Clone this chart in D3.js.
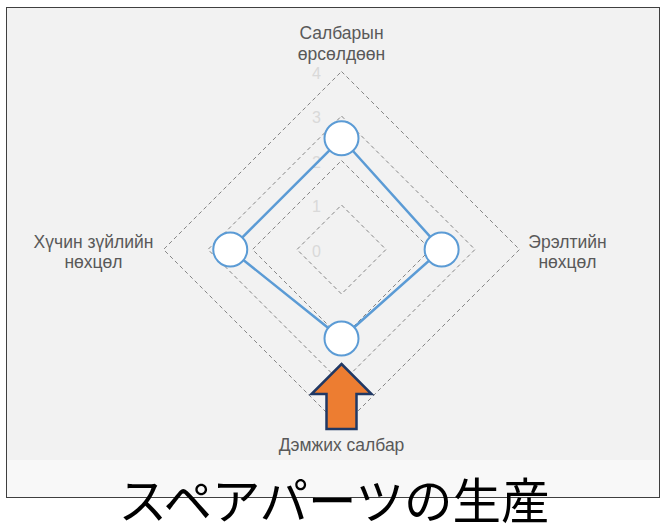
<!DOCTYPE html>
<html>
  <head>
    <meta charset="utf-8">
    <title>スペアパーツの生産</title>
    <script src="https://cdn.jsdelivr.net/npm/d3@7"></script>
    <style>
      body
      {
        margin: 0px;
        padding: 0px;
        background: white;
        font-family: "Liberation Sans", Arial, sans-serif;
      }

      svg
      {
        display: block;
      }

      .grid
      {
        fill: none;
        stroke: #858585;
        stroke-width: 1px;
        stroke-dasharray: 4 3;
      }

      .axisLabel
      {
        fill: #595959;
        font-size: 17.5px;
        text-anchor: middle;
      }

      .levelLabel
      {
        fill: #d9d9d9;
        font-size: 16px;
        text-anchor: middle;
      }

      .title
      {
        font-family: "Noto Sans CJK JP", sans-serif;
        font-size: 48.5px;
        text-anchor: middle;
        fill: black;
      }
    </style>
  </head>
  <body>
    <svg id="chart"></svg>

    <script>

      //--- Chart data
      var categories = [
        ["Салбарын", "өрсөлдөөн"],
        ["Эрэлтийн", "нөхцөл"],
        ["Дэмжих салбар"],
        ["Хүчин зүйлийн", "нөхцөл"]
      ];
      var values = [2.5, 2.25, 2.0, 2.5];
      var levels = [0, 1, 2, 3, 4];
      var title = "スペアパーツの生産";

      var width = 667;
      var height = 526;
      var cx = 341.5;
      var cy = 249.5;

      var svg = d3.select("#chart")
          .attr("width", width)
          .attr("height", height);

      //--- Panel background and frame
      svg.append("rect")
          .attr("x", 6.5).attr("y", 7.5)
          .attr("width", 653).attr("height", 490)
          .attr("fill", "#f2f2f2");

      svg.append("rect")
          .attr("x", 6.5).attr("y", 460)
          .attr("width", 653).attr("height", 37.5)
          .attr("fill", "#f8f8f8");

      svg.append("rect")
          .attr("x", 6.5).attr("y", 7.5)
          .attr("width", 653).attr("height", 490)
          .attr("fill", "none")
          .attr("stroke", "#3f3f3f")
          .attr("stroke-width", 1);

      //--- Radial scale
      var r = d3.scaleLinear()
          .domain([0, 4])
          .range([0, 178]);

      var angle = d3.scaleLinear()
          .domain([0, categories.length])
          .range([0, 2 * Math.PI]);

      var g = svg.append("g")
          .attr("transform", "translate(" + cx + "," + cy + ")");

      //--- Dashed grid diamonds
      var gridLine = d3.lineRadial()
          .curve(d3.curveLinearClosed);

      g.selectAll(".grid")
          .data(levels.filter(d => d > 0))
          .enter()
            .append("path")
              .classed("grid", true)
              .attr("d", lv => gridLine(categories.map((c, i) => [angle(i), r(lv)])));

      //--- Level labels
      g.selectAll(".levelLabel")
          .data(levels)
          .enter()
            .append("text")
              .classed("levelLabel", true)
              .attr("x", -25)
              .attr("y", d => -r(d) + 7)
              .text(d => d);

      //--- Series line
      var seriesLine = d3.lineRadial()
          .angle((d, i) => angle(i))
          .radius(d => r(d))
          .curve(d3.curveLinearClosed);

      g.append("path")
          .datum(values)
          .attr("d", seriesLine)
          .attr("fill", "none")
          .attr("stroke", "#5b9bd5")
          .attr("stroke-width", 2.5);

      //--- Markers
      g.selectAll(".marker")
          .data(values)
          .enter()
            .append("circle")
              .classed("marker", true)
              .attr("cx", (d, i) => r(d) * Math.sin(angle(i)))
              .attr("cy", (d, i) => -r(d) * Math.cos(angle(i)))
              .attr("r", 17)
              .attr("fill", "white")
              .attr("stroke", "#5b9bd5")
              .attr("stroke-width", 2);

      //--- Axis labels
      var labelPos = [
        { x: 0, y: -211, dy: 21.5 },
        { x: 226, y: -2, dy: 20 },
        { x: 0, y: 201, dy: 0 },
        { x: -248, y: -2, dy: 20 }
      ];

      categories.forEach(function (lines, i)
      {
        var t = g.append("text")
            .classed("axisLabel", true)
            .attr("transform", "translate(" + labelPos[i].x + "," + labelPos[i].y + ")");
        lines.forEach(function (line, j)
        {
          t.append("tspan")
            .attr("x", 0)
            .attr("y", j * labelPos[i].dy)
            .text(line);
        });
      });

      //--- Orange arrow pointing at the bottom point
      var tipY = 364 - cy;
      var arrow = [
        [0, tipY], [30, tipY + 30], [15, tipY + 30], [15, tipY + 65],
        [-15, tipY + 65], [-15, tipY + 30], [-30, tipY + 30]
      ];

      g.append("path")
          .attr("d", d3.line()(arrow) + "Z")
          .attr("fill", "#ed7d31")
          .attr("stroke", "#203864")
          .attr("stroke-width", 2.5)
          .attr("stroke-linejoin", "miter");

      //--- Title
      svg.append("text")
          .classed("title", true)
          .attr("x", 334)
          .attr("y", 519)
          .text(title);

    </script>
  </body>
</html>
